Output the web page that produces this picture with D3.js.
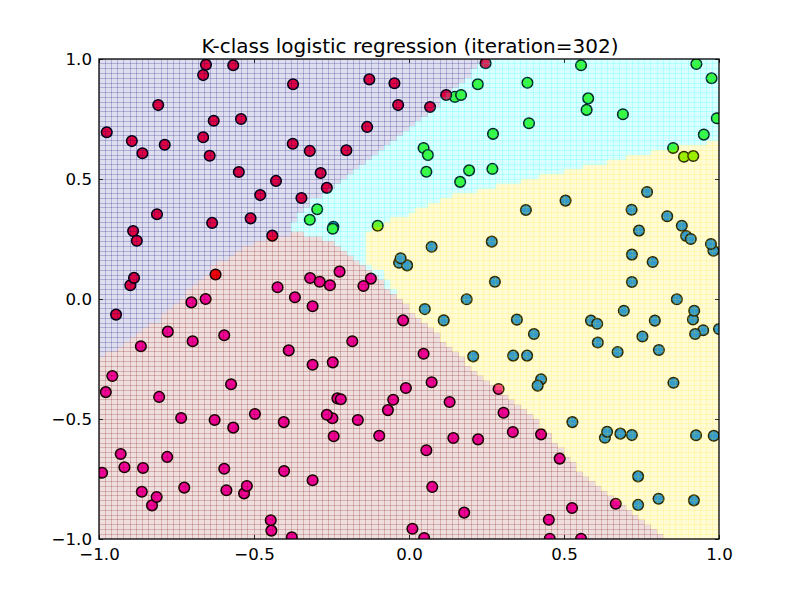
<!DOCTYPE html>
<html><head><meta charset="utf-8">
<script src="https://cdn.jsdelivr.net/npm/d3@7"></script>
<style>html,body{margin:0;padding:0;background:#fff}svg{display:block}text{font-family:"DejaVu Sans";fill:#000}</style>
</head><body><div id="chart"></div>
<script>
const titleText = "K-class logistic regression (iteration=302)";
const tickValues = [-1, -0.5, 0, 0.5, 1];

// Decision map, one entry per row of the 100x100 mesh, from the top row down.
const purpleEnd = [62,61,60,60,59,58,57,56,55,55,54,53,52,51,50,49,48,47,46,45,44,43,42,41,40,39,38,37,36,34,34,33,32,32,31,31,31,27,25,23,22,21,19,18,18,17,16,15,14,14,13,12,11,10,10,8,7,6,5,4,3,1,0,0,0,0,0,0,0,0,0,0,0,0,0,0,0,0,0,0,0,0,0,0,0,0,0,0,0,0,0,0,0,0,0,0,0,0,0,0];
const redEnd = [0,0,0,0,0,0,0,0,0,0,0,0,0,0,0,0,0,0,0,0,0,0,0,0,0,0,0,0,0,0,0,0,0,0,0,0,33,36,38,39,40,41,42,43,44,45,46,46,47,48,49,50,50,51,52,53,54,55,55,56,57,58,59,59,60,61,62,63,64,65,66,67,68,69,70,71,71,72,73,73,74,75,75,76,77,77,78,79,80,81,82,83,84,85,86,87,88,89,90,91];
const cyanEnd = [100,100,100,100,100,100,100,100,100,100,100,100,100,100,100,100,100,98,93,89,85,82,78,75,71,68,64,61,57,55,53,51,50,47,46,44,43,43,43,43,43,43,43,44,46,46,47,47,48,0,0,0,0,0,0,0,0,0,0,0,0,0,0,0,0,0,0,0,0,0,0,0,0,0,0,0,0,0,0,0,0,0,0,0,0,0,0,0,0,0,0,0,0,0,0,0,0,0,0,0];
const regionColors = ["#00007f", "#00ffff", "#ffe900", "#7f0000"]; // purple, cyan, yellow, red
const fillAlpha = [0.13, 0.15, 0.17, 0.13];
const lineAlpha = [0.11, 0.09, 0.08, 0.11];

const bluePts = [[.207,-.239],[.336,-.236],[.381,-.236],[.609,-.181],[.673,-.221],[.806,-.2125],[.753,-.156],[.426,-.335],[.415,-.361],[.853,-.349],[.527,-.513],[.632,-.578],[.639,-.553],[.682,-.561],[.719,-.567],[.926,-.568],[.983,-.570],[.739,-.739],[.805,-.832],[.739,-.858],[.919,-.839],[-.244,.301],[-.032,.151],[-.006,.140],[-.027,.170],[.073,.218],[.051,-.042],[.112,-.089],[.186,-.001],[.267,.239],[.277,.072],[.348,-.086],[.403,-.146],[.377,.371],[.505,.410],[.768,.446],[.718,.372],[.833,.345],[.742,.285],[.880,.305],[.894,.2625],[.909,.250],[.982,.201],[.974,.229],[.719,.185],[.786,.154],[.719,.071],[.864,-.001],[.693,-.049],[.916,-.085],[.920,-.049],[.587,-.090],[.607,-.103],[.793,-.090],[.949,-.130],[.923,-.146],[1.0,-.125]];
const greenPts = [[.148,.842],[.168,.850],[.222,.895],[.382,.901],[.555,.974],[.578,.836],[.573,.788],[.690,.770],[.387,.732],[.271,.688],[.194,.536],[.269,.542],[.165,.488],[.927,.979],[.976,.920],[.993,.753],[.951,.685],[.852,.629],[.047,.629],[.061,.600],[.056,.530],[-.296,.374],[-.320,.330],[-.246,.293]];
const limePts = [[.887,.593],[.917,.596],[-.101,.305]];
const magentaPts = [[-.424,.049],[-.319,.0875],[-.288,.072],[-.255,.057],[-.224,.114],[-.123,.085],[-.147,.054],[-.368,.007],[-.311,-.030],[-.656,0],[-.702,-.014],[-.778,-.136],[-.698,-.176],[-.596,-.151],[-.865,-.197],[-.019,-.089],[-.183,-.176],[-.388,-.214],[-.311,-.274],[-.246,-.264],[-.957,-.321],[-.978,-.388],[-.574,-.355],[-.806,-.408],[-.010,-.371],[-.051,-.420],[-.231,-.414],[-.220,-.418],[-.068,-.463],[-.497,-.479],[-.735,-.496],[-.627,-.504],[-.567,-.536],[-.404,-.513],[-.247,-.497],[-.265,-.482],[-.165,-.504],[-.243,-.572],[-.096,-.570],[-.930,-.646],[-.780,-.658],[-.918,-.701],[-.858,-.704],[-.990,-.724],[-.596,-.707],[-.403,-.717],[-.725,-.786],[-.862,-.803],[-.589,-.797],[-.532,-.810],[-.523,-.779],[-.311,-.755],[-.829,-.860],[-.814,-.825],[-.446,-.922],[-.444,-.965],[-.378,-.993],[.047,-.228],[.073,-.347],[.131,-.429],[.305,-.474],[.335,-.554],[.143,-.579],[.223,-.585],[.056,-.630],[.486,-.665],[.075,-.783],[.526,-.871],[.667,-.853],[.178,-.890],[.451,-.920],[.011,-.957],[.049,-.996],[.454,-.999],[.555,-.999]];
const pinkPts = [[.426,-.564],[.289,-.375]];
const pinkTones = ["#f400a0", "#ff2a9c"];
const crimsonPts = [[-.975,.695],[-.894,.658],[-.860,.607],[-.788,.643],[-.809,.808],[-.664,.933],[-.655,.976],[-.567,.974],[-.630,.743],[-.542,.750],[-.664,.674],[-.643,.597],[-.549,.529],[-.429,.492],[-.480,.433],[-.347,.421],[-.375,.647],[-.320,.617],[-.374,.895],[-.285,.525],[-.265,.463],[-.202,.620],[-.135,.717],[-.128,.915],[-.047,.899],[-.035,.808],[.068,.800],[.120,.850],[.247,.982],[-.813,.353],[-.635,.317],[-.511,.336],[-.890,.283],[-.878,.243],[-.441,.264],[-.899,.057],[-.887,.088],[-.945,-.065]];
const redPts = [[-.624,.102]];
const pointColors = {blue:"#0c8cf4", green:"#46f61c", lime:"#80f000", magenta:"#ff00b0", crimson:"#ff0038", red:"#ff0010"};

const W = 800, H = 600, L = 99, R = 719, T = 59, B = 539;
const x = d3.scaleLinear().domain([-1, 1]).range([L, R]);
const y = d3.scaleLinear().domain([-1, 1]).range([B, T]);
const svg = d3.select("#chart").append("svg").attr("width", W).attr("height", H);
svg.append("clipPath").attr("id", "clip").append("rect").attr("x", L).attr("y", T).attr("width", R - L).attr("height", B - T);
const plot = svg.append("g").attr("clip-path", "url(#clip)");

function addPts(pts, color) {
  plot.append("g").selectAll("circle").data(pts).join("circle")
    .attr("cx", d => x(d[0])).attr("cy", d => y(d[1])).attr("r", 5.3)
    .attr("fill", color).attr("stroke", "#000").attr("stroke-width", 1.5);
}
addPts(bluePts, pointColors.blue);
addPts(greenPts, pointColors.green);
addPts(limePts, pointColors.lime);
addPts(magentaPts, pointColors.magenta);
plot.append("g").selectAll("circle").data(pinkPts).join("circle")
  .attr("cx", d => x(d[0])).attr("cy", d => y(d[1])).attr("r", 5.3)
  .attr("fill", (d, i) => pinkTones[i]).attr("stroke", "#000").attr("stroke-width", 1.5);
addPts(crimsonPts, pointColors.crimson);
addPts(redPts, pointColors.red);

// mesh, drawn over the points with transparency
const step = 0.02;
const cells = [];
d3.range(100).forEach(r => {
  const p = purpleEnd[r], q = Math.max(p, redEnd[r]), s = Math.max(q, cyanEnd[r]);
  d3.range(100).forEach(c => {
    cells.push({r, c, k: c < p ? 0 : c < q ? 3 : c < s ? 1 : 2});
  });
});
plot.append("g").attr("shape-rendering", "crispEdges").selectAll("rect").data(cells).join("rect")
  .attr("x", d => x(-1 + d.c * step))
  .attr("y", d => y(1 - d.r * step))
  .attr("width", d => x(-1 + (d.c + 1) * step) - x(-1 + d.c * step))
  .attr("height", d => y(1 - (d.r + 1) * step) - y(1 - d.r * step))
  .attr("fill", d => regionColors[d.k]).attr("fill-opacity", d => fillAlpha[d.k])
  .attr("stroke", d => regionColors[d.k]).attr("stroke-opacity", d => lineAlpha[d.k]).attr("stroke-width", 1);

const fmt = d3.format(".1f");
const axisStyle = g => {
  g.select(".domain").remove();
  g.selectAll("text").style("font-size", "16.67px").style("font-family", '"DejaVu Sans"');
  g.selectAll("line").attr("stroke", "#000").attr("stroke-width", 0.8);
};
svg.append("g").attr("transform", `translate(0,${B})`)
  .call(d3.axisBottom(x).tickValues(tickValues).tickFormat(fmt).tickSize(-4).tickPadding(9)).call(axisStyle);
svg.append("g").attr("transform", `translate(${L},0)`)
  .call(d3.axisLeft(y).tickValues(tickValues).tickFormat(fmt).tickSize(-4).tickPadding(7)).call(axisStyle);
svg.append("g").attr("transform", `translate(0,${T})`)
  .call(d3.axisTop(x).tickValues(tickValues).tickFormat("").tickSize(-4)).call(axisStyle);
svg.append("g").attr("transform", `translate(${R},0)`)
  .call(d3.axisRight(y).tickValues(tickValues).tickFormat("").tickSize(-4)).call(axisStyle);

svg.append("rect").attr("x", L).attr("y", T).attr("width", R - L).attr("height", B - T)
  .attr("fill", "none").attr("stroke", "#000").attr("stroke-width", 1.3);
svg.append("text").attr("x", (L + R) / 2 + 1).attr("y", 53).attr("text-anchor", "middle")
  .style("font-size", "20px").text(titleText);
</script></body></html>
